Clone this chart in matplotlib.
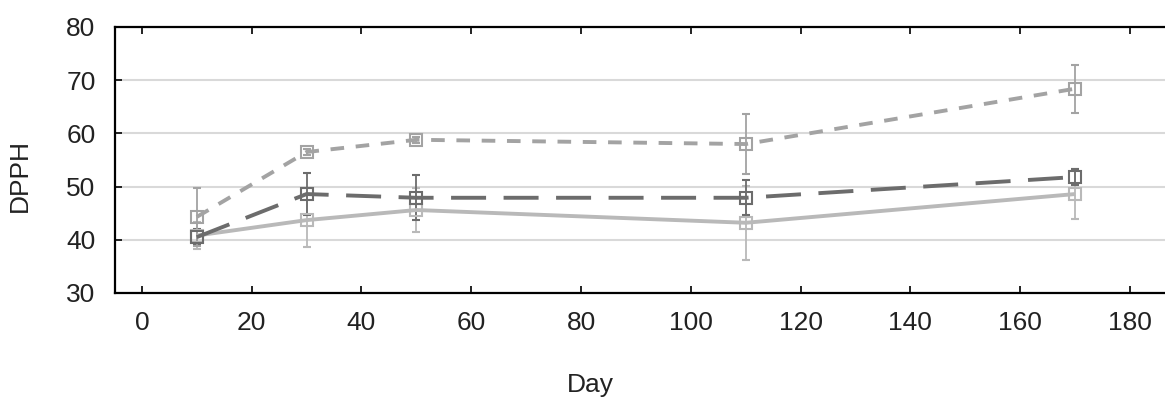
import matplotlib
matplotlib.use("Agg")
import matplotlib.pyplot as plt

plt.rcParams['font.family'] = ['Liberation Sans', 'DejaVu Sans']

# Data
days = [10, 30, 50, 110, 170]

light_vals = [40.8, 43.7, 45.6, 43.2, 48.6]
light_err = [2.5, 5.0, 4.1, 7.0, 4.7]

dark_vals = [40.5, 48.6, 47.9, 47.9, 51.8]
dark_err = [1.5, 3.9, 4.2, 3.3, 1.5]

mid_vals = [44.3, 56.5, 58.8, 58.0, 68.4]
mid_err = [5.4, 0.6, 0.6, 5.6, 4.5]

x_ticks = [0, 20, 40, 60, 80, 100, 120, 140, 160, 180]
y_ticks = [30, 40, 50, 60, 70, 80]

fig = plt.figure(figsize=(11.65, 3.97), dpi=100)
ax = fig.add_axes([115 / 1165, 1 - 293 / 397, 1 - 115 / 1165 + 0.01, 266 / 397])

series = [
    (light_vals, light_err, '#b9b9b9', (0, ())),
    (dark_vals, dark_err, '#6c6c6c', (0, (9, 4.5))),
    (mid_vals, mid_err, '#a3a3a3', (0, (3.5, 3))),
]
for vals, err, col, ls in series:
    ax.errorbar(days, vals, yerr=err, color=col, linestyle=ls, linewidth=2.8,
                marker='s', markersize=9, markerfacecolor='none',
                markeredgecolor=col, markeredgewidth=1.5,
                ecolor=col, elinewidth=1.3, capsize=3, capthick=1.3)

ax.set_xlim(-4.9, 188.5)
ax.set_ylim(30, 80)
ax.set_xticks(x_ticks)
ax.set_yticks(y_ticks)
ax.yaxis.grid(True, color='#d9d9d9', linewidth=1.5)
ax.set_axisbelow(True)

ax.spines['right'].set_visible(False)
for s in ['left', 'bottom', 'top']:
    ax.spines[s].set_linewidth(1.6)

ax.tick_params(axis='both', direction='in', length=5, width=1.4, labelsize=19,
               colors='#222222', top=True)
ax.tick_params(axis='x', pad=13)
ax.tick_params(axis='y', pad=14)

ax.set_xlabel('Day', fontsize=19, color='#222222')
ax.xaxis.set_label_coords(0.448, -0.3)
ax.set_ylabel('DPPH', fontsize=19, color='#222222')
ax.yaxis.set_label_coords(-0.078, 0.44)

fig.savefig('out.png', dpi=100)
